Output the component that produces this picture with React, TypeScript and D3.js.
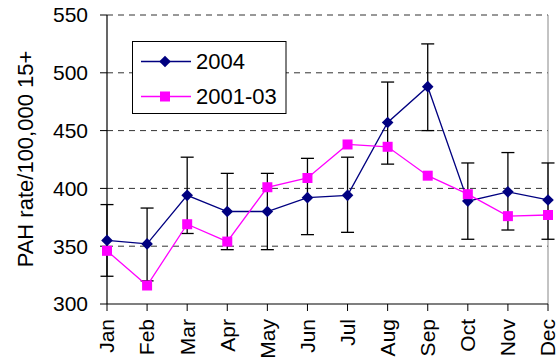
import React from "react";
import * as d3 from "d3";

const months = ["Jan", "Feb", "Mar", "Apr", "May", "Jun", "Jul", "Aug", "Sep", "Oct", "Nov", "Dec"];
const rate2004 = [355, 352, 394, 380, 380, 392, 394, 457, 488, 389, 397, 390];
const rate200103 = [346, 316, 369, 354, 401, 409, 438, 436, 411, 395, 376, 377];
const upper2004 = [386, 383, 427, 413, 413, 426, 427, 492, 525, 422, 431, 422];
const lower2004 = [324, 320, 361, 347, 347, 360, 362, 421, 450, 356, 364, 356];
const yTicks = [300, 350, 400, 450, 500, 550];
const seriesNames = ["2004", "2001-03"];

const W = 559, H = 359;
const left = 107, right = 548, top = 15, bottom = 304;
const FONT = "'Liberation Sans', Arial, sans-serif";

export default function App() {
  const x = d3.scalePoint<string>().domain(months).range([left, right]);
  const y = d3.scaleLinear().domain([300, 550]).range([bottom, top]);
  const line = d3.line<number>().x((_, i) => x(months[i])!).y((d) => y(d));
  const navy = "#000080";
  const mag = "#FF00FF";
  const diamond = (cx: number, cy: number, r = 5.8) =>
    `M${cx},${cy - r}L${cx + r},${cy}L${cx},${cy + r}L${cx - r},${cy}Z`;
  const sq = 10;

  return (
    <svg width={W} height={H} style={{ position: "absolute", left: 0, top: 0, background: "#fff" }}>
      {yTicks.filter((t) => t > 300).map((t) => (
        <line key={t} x1={left} x2={right} y1={y(t)} y2={y(t)} stroke="#333" strokeWidth={1} strokeDasharray="6,5" />
      ))}
      <line x1={right} x2={right} y1={top} y2={bottom} stroke="#888" strokeWidth={1} />
      <line x1={left} x2={left} y1={top} y2={bottom} stroke="#000" strokeWidth={1.2} />
      <line x1={left} x2={right} y1={bottom} y2={bottom} stroke="#000" strokeWidth={1.2} />
      {yTicks.map((t) => (
        <g key={t}>
          <line x1={left - 7} x2={left} y1={y(t)} y2={y(t)} stroke="#000" strokeWidth={1} />
          <text x={88} y={y(t)} dy="0.35em" textAnchor="end" fontFamily={FONT} fontSize={21} fill="#000">
            {t}
          </text>
        </g>
      ))}
      {months.map((m) => (
        <g key={m}>
          <line x1={x(m)} x2={x(m)} y1={bottom} y2={bottom + 7} stroke="#000" strokeWidth={1} />
          <text
            transform={`translate(${x(m)},${bottom + 15}) rotate(-90)`}
            dy="0.35em"
            textAnchor="end"
            fontFamily={FONT}
            fontSize={21}
            fill="#000"
          >
            {m}
          </text>
        </g>
      ))}
      <text
        transform={`translate(33,159) rotate(-90)`}
        textAnchor="middle"
        fontFamily={FONT}
        fontSize={22}
        fill="#000"
      >
        PAH rate/100,000 15+
      </text>

      {months.map((m, i) => (
        <g key={"e" + m} stroke="#000" strokeWidth={1.3}>
          <line x1={x(m)} x2={x(m)} y1={y(upper2004[i])} y2={y(lower2004[i])} />
          <line x1={x(m)! - 6.5} x2={x(m)! + 6.5} y1={y(upper2004[i])} y2={y(upper2004[i])} />
          <line x1={x(m)! - 6.5} x2={x(m)! + 6.5} y1={y(lower2004[i])} y2={y(lower2004[i])} />
        </g>
      ))}
      <path d={line(rate2004)!} fill="none" stroke={navy} strokeWidth={1.3} />
      {rate2004.map((v, i) => (
        <path key={"d" + i} d={diamond(x(months[i])!, y(v))} fill={navy} />
      ))}
      <path d={line(rate200103)!} fill="none" stroke={mag} strokeWidth={1.3} />
      {rate200103.map((v, i) => (
        <rect key={"s" + i} x={x(months[i])! - sq / 2} y={y(v) - sq / 2} width={sq} height={sq} fill={mag} />
      ))}

      <rect x={132.5} y={41.5} width={153.5} height={72} fill="#fff" stroke="#000" strokeWidth={1} />
      <line x1={141} x2={191} y1={61.5} y2={61.5} stroke={navy} strokeWidth={1.3} />
      <path d={diamond(165, 61.5)} fill={navy} />
      <text x={196} y={61.5} dy="0.35em" fontFamily={FONT} fontSize={22} fill="#000">
        {seriesNames[0]}
      </text>
      <line x1={141} x2={191} y1={96.5} y2={96.5} stroke={mag} strokeWidth={1.3} />
      <rect x={165 - sq / 2} y={96.5 - sq / 2} width={sq} height={sq} fill={mag} />
      <text x={196} y={96.5} dy="0.35em" fontFamily={FONT} fontSize={22} fill="#000">
        {seriesNames[1]}
      </text>
    </svg>
  );
}
